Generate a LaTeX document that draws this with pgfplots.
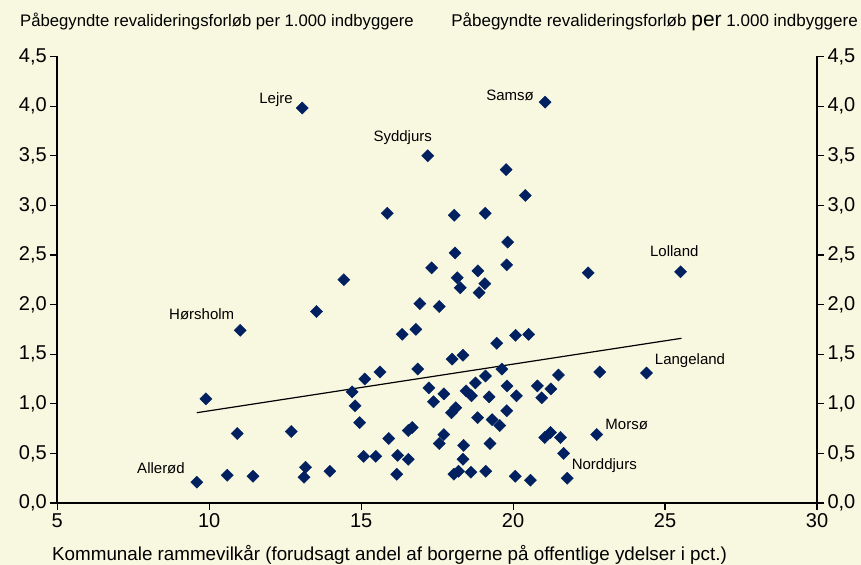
\documentclass[border=0pt]{standalone}
\usepackage{pgfplots}
\pgfplotsset{compat=1.18}
\usepackage{fontspec}
\setmainfont{Liberation Sans}
\definecolor{bg}{RGB}{248,247,224}
\definecolor{navy}{RGB}{0,32,96}
\pgfplotstableread{
x y
13.06 3.98
21.05 4.04
17.19 3.50
15.86 2.92
17.32 2.37
14.43 2.25
16.93 2.01
17.57 1.98
13.53 1.93
19.77 3.36
20.40 3.10
18.06 2.90
19.08 2.92
19.82 2.63
18.09 2.52
19.79 2.40
18.84 2.34
22.47 2.32
25.51 2.33
18.16 2.27
18.26 2.17
19.07 2.21
18.88 2.12
16.35 1.70
16.80 1.75
19.46 1.61
20.08 1.69
20.51 1.70
17.99 1.45
18.35 1.49
15.12 1.25
15.62 1.32
16.86 1.35
19.63 1.35
21.49 1.29
22.85 1.32
24.39 1.31
14.70 1.12
17.23 1.16
17.72 1.10
18.76 1.21
19.09 1.28
18.45 1.13
18.63 1.08
19.21 1.07
19.80 1.18
20.11 1.08
20.80 1.18
21.24 1.15
20.94 1.06
14.80 0.98
17.38 1.02
18.11 0.96
17.97 0.91
19.79 0.93
14.95 0.81
18.83 0.86
19.31 0.84
19.56 0.78
16.55 0.73
16.68 0.76
15.91 0.65
17.72 0.69
17.57 0.60
18.37 0.58
19.24 0.60
21.04 0.66
21.23 0.71
21.56 0.66
22.75 0.69
15.08 0.47
15.48 0.47
16.20 0.48
16.55 0.44
18.35 0.44
21.66 0.50
16.17 0.29
18.05 0.29
18.20 0.32
18.61 0.31
19.10 0.32
20.07 0.27
20.57 0.23
21.78 0.25
13.97 0.32
11.02 1.74
9.89 1.05
10.92 0.70
12.70 0.72
9.59 0.21
10.59 0.28
11.44 0.27
13.17 0.36
13.12 0.26
}\pts
\begin{document}
\begin{tikzpicture}
\fill[bg] (-57.3bp,-62bp) rectangle (803.7bp,503bp);
\useasboundingbox (-57.3bp,-62bp) rectangle (803.7bp,503bp);
\pgfplotsset{common/.style={
  width=759.7bp, height=446.5bp, scale only axis,
  at={(0,0)}, anchor=south west,
  xmin=5, xmax=30, ymin=0, ymax=4.5,
  axis line style={draw=none},
  tick align=outside, major tick length=7bp,
  every tick/.style={black, line width=1.2bp},
  ytick={0,0.5,...,4.5},
  xtick={5,10,...,30},
  /pgf/number format/assume math mode=true,
  tick label style={font=\fontsize{20bp}{22bp}\selectfont, text=black},
  yticklabel style={/pgf/number format/.cd, fixed, fixed zerofill, precision=1, use comma},
  xticklabel style={/pgf/number format/.cd, fixed, precision=0},
  clip=false,
}}
\begin{axis}[common, xtick pos=left, ytick pos=left]
\addplot[only marks, mark=square*, mark size=4.3bp, mark options={rotate=45, fill=navy, draw=navy}] table[x=x,y=y] {\pts};
\addplot[black, line width=1.2bp, no marks] coordinates {(9.59,0.91) (25.54,1.66)};
\draw[black, line width=1.6bp] (rel axis cs:0,1) -- (rel axis cs:0,0) -- (rel axis cs:1,0) -- (rel axis cs:1,1);
\end{axis}
\begin{axis}[common, xtick=\empty, ytick pos=right, yticklabel pos=right]
\end{axis}
\begin{scope}[every node/.style={font=\fontsize{15bp}{17bp}\selectfont, inner sep=0pt}]
\node at (218.7bp,403bp) {Lejre};
\node at (452.7bp,408bp) {Samsø};
\node at (345.4bp,365.7bp) {Syddjurs};
\node at (617bp,252bp) {Lolland};
\node at (144.4bp,189bp) {Hørsholm};
\node at (632.7bp,142bp) {Langeland};
\node at (569.4bp,78.7bp) {Morsø};
\node at (547bp,37.3bp) {Norddjurs};
\node at (103.7bp,34.7bp) {Allerød};
\end{scope}
\begin{scope}[every node/.style={inner sep=0pt}]
\node[anchor=west, font=\fontsize{16.7bp}{19bp}\selectfont] at (-37.3bp,481bp) {Påbegyndte revalideringsforløb per 1.000 indbyggere};
\node[anchor=east, font=\fontsize{17bp}{19bp}\selectfont] at (800.7bp,481bp) {Påbegyndte revalideringsforløb {\fontsize{21bp}{22bp}\selectfont per} 1.000 indbyggere};
\node[anchor=west, font=\fontsize{18.8bp}{20bp}\selectfont] at (-5.3bp,-52bp) {Kommunale rammevilkår (forudsagt andel af borgerne på offentlige ydelser i pct.)};
\end{scope}
\end{tikzpicture}
\end{document}
